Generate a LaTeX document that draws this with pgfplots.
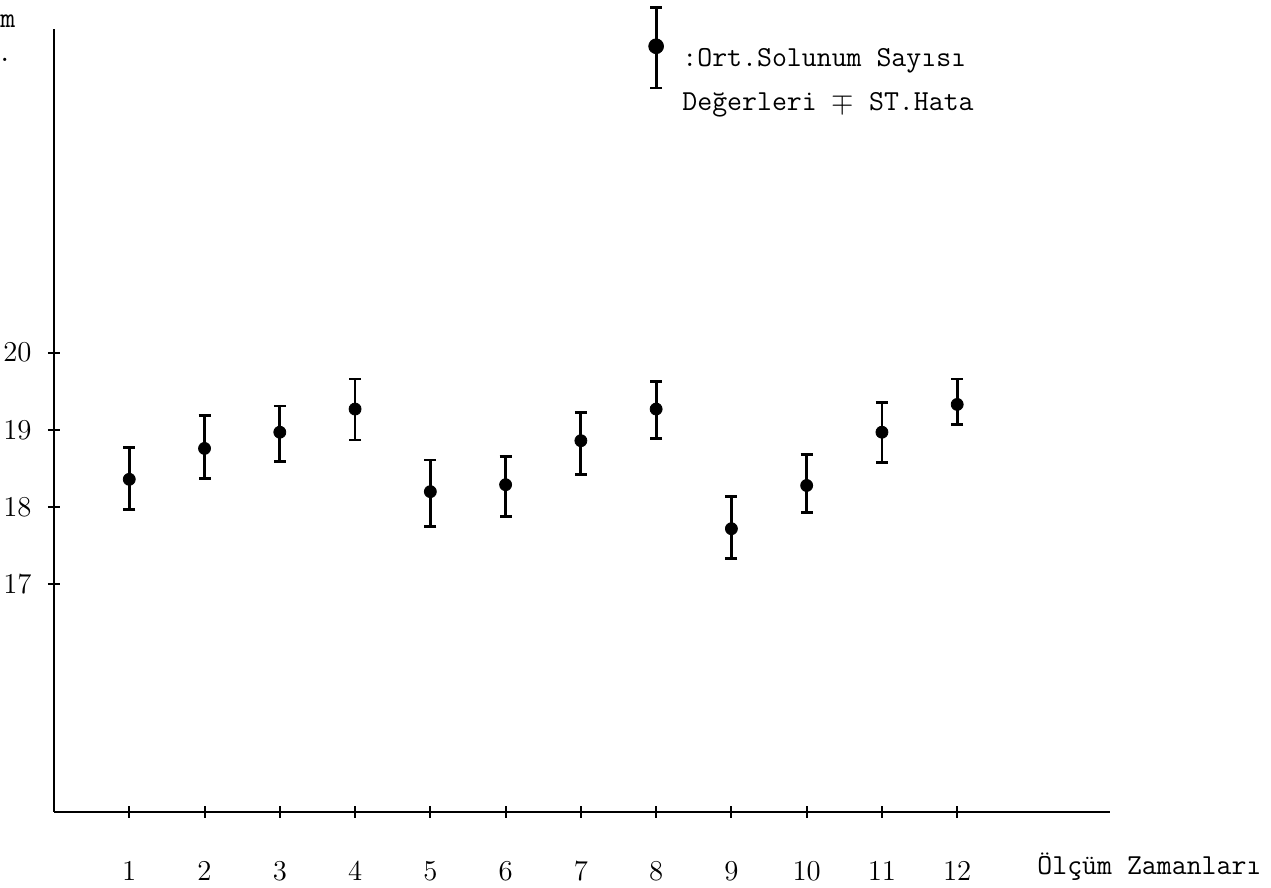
\documentclass[border=0pt]{standalone}
\usepackage{pgfplots}
\pgfplotsset{compat=1.18}
\usepackage{pgfplotstable}
\usepackage{fontspec}

\pgfplotstableread{
x y ep em
1 18.36 0.41 0.39
2 18.76 0.43 0.39
3 18.97 0.34 0.38
4 19.27 0.39 0.40
5 18.20 0.41 0.45
6 18.29 0.37 0.41
7 18.86 0.37 0.44
8 19.27 0.36 0.38
9 17.72 0.42 0.39
10 18.28 0.40 0.35
11 18.97 0.39 0.39
12 19.33 0.33 0.26
}\data
\pgfplotstableread{
x y ep em
8 23.97 0.50 0.54
}\legdata

\begin{document}
\begin{tikzpicture}[x=1pt,y=1pt]
\useasboundingbox (0,0) rectangle (635.5,444);
\begin{axis}[
  at={(27pt,38pt)}, anchor=south west,
  scale only axis, width=528pt, height=391.35pt,
  xmin=0, xmax=14.03, ymin=14.05, ymax=24.19,
  axis x line*=bottom, axis y line*=left,
  axis line style={line width=1pt, -},
  xtick={1,2,3,4,5,6,7,8,9,10,11,12}, ytick={17,18,19,20},
  tick align=center, major tick length=6pt,
  tick style={line width=1pt, black},
  xticklabel style={font=\fontsize{14}{16}\selectfont, anchor=base, yshift=-31.5pt, inner sep=0pt},
  yticklabel style={font=\fontsize{14}{16}\selectfont, anchor=east, inner sep=0pt, xshift=-8pt},
  clip=false,
]
\addplot[only marks, mark=*, mark size=3pt, black,
  error bars/.cd, y dir=both, y explicit, error mark=-,
  error bar style={line width=1.4pt, black},
  error mark options={rotate=90, mark size=3pt, line width=1.4pt, black}]
  table[x=x, y=y, y error plus=ep, y error minus=em] {\data};
\addplot[only marks, mark=*, mark size=3.7pt, black,
  error bars/.cd, y dir=both, y explicit, error mark=-,
  error bar style={line width=1.4pt, black},
  error mark options={rotate=90, mark size=3pt, line width=1.4pt, black}]
  table[x=x, y=y, y error plus=ep, y error minus=em] {\legdata};
\end{axis}
\node[anchor=base west, inner sep=0pt, font=\ttfamily\fontsize{14.5}{16}\selectfont] at (341,410.6) {:Ort.Solunum Sayısı};
\node[anchor=base west, inner sep=0pt, font=\ttfamily\fontsize{14.5}{16}\selectfont] at (341,388.5) {Değerleri $\mp$ ST.Hata};
\node[anchor=base west, inner sep=0pt, font=\ttfamily\fontsize{14.5}{16}\selectfont] at (518.5,6.5) {Ölçüm Zamanları};
\node[anchor=base west, inner sep=0pt, font=\ttfamily\fontsize{14.5}{16}\selectfont] at (0,430) {m};
\node[anchor=base west, inner sep=0pt, font=\ttfamily\fontsize{14.5}{16}\selectfont] at (-1.5,413) {.};
\end{tikzpicture}
\end{document}
